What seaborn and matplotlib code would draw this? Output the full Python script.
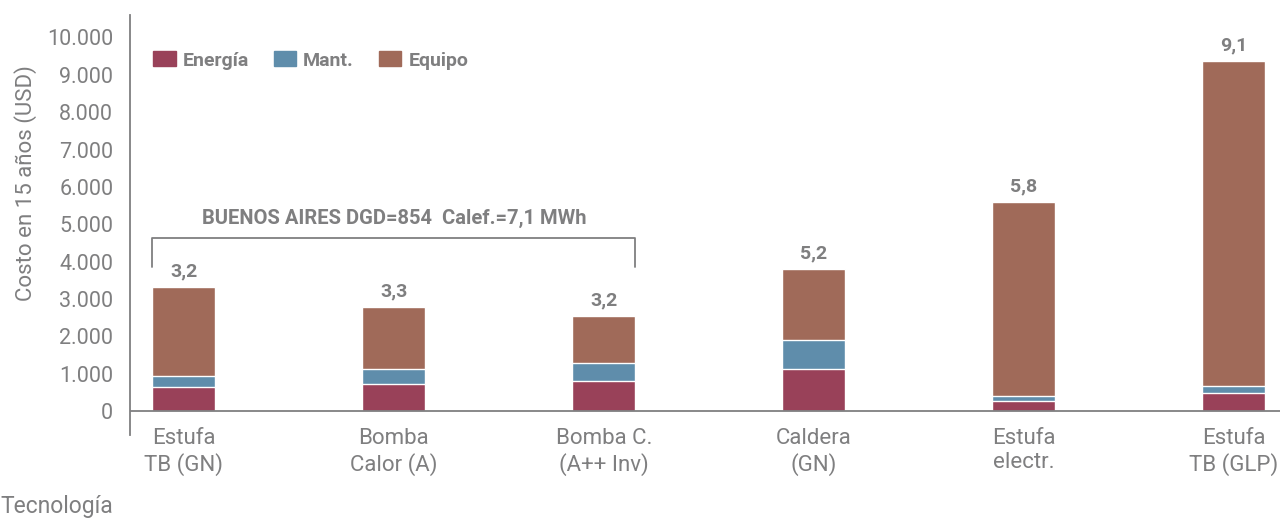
import matplotlib
matplotlib.use("Agg")
import matplotlib.pyplot as plt
import matplotlib.patches as mpatches
from matplotlib.ticker import FuncFormatter
import seaborn as sns
import pandas as pd
import numpy as np

# datos (USD en 15 años)
tecnologias = ["Estufa\nTB (GN)", "Bomba\nCalor (A)", "Bomba C.\n(A++ Inv)",
               "Caldera\n(GN)", "Estufa\nelectr.", "Estufa\nTB (GLP)"]
energia = [640, 730, 800, 1130, 270, 480]
mant = [300, 390, 480, 780, 130, 190]
equipo = [2380, 1660, 1260, 1880, 5200, 8690]
etiquetas = ["3,2", "3,3", "3,2", "5,2", "5,8", "9,1"]

c_energia = "#994159"
c_mant = "#5f8dab"
c_equipo = "#a06a59"
gris = "#7f7f80"

sns.set_style("white")
plt.rcParams["font.family"] = ["Roboto", "DejaVu Sans"]

df = pd.DataFrame({"tec": tecnologias, "energia": energia, "mant": mant, "equipo": equipo})
df["em"] = df["energia"] + df["mant"]
df["total"] = df["em"] + df["equipo"]

fig = plt.figure(figsize=(12.8, 5.18), dpi=100)
ax = fig.add_axes([130 / 1280, 83 / 518, 1 - 130 / 1280, 420 / 518])

# barras apiladas: total, luego energia+mant, luego energia
sns.barplot(data=df, x="tec", y="total", color=c_equipo, width=0.3, saturation=1, ax=ax)
sns.barplot(data=df, x="tec", y="em", color=c_mant, width=0.3, saturation=1, ax=ax)
sns.barplot(data=df, x="tec", y="energia", color=c_energia, width=0.3, saturation=1, ax=ax)

ax.set_xlim(-0.257, 5.22)
ax.set_ylim(-640, 10600)
ax.set_yticks(np.arange(0, 10001, 1000))
ax.yaxis.set_major_formatter(FuncFormatter(lambda v, p: f"{int(v):,}".replace(",", ".")))
ax.tick_params(axis="both", length=0, labelcolor=gris)
ax.tick_params(axis="x", pad=-5, labelsize=16)
ax.tick_params(axis="y", pad=12, labelsize=15.5)

for s in ["top", "right", "bottom"]:
    ax.spines[s].set_visible(False)
ax.spines["left"].set_color(gris)
ax.spines["left"].set_linewidth(1.3)
ax.axhline(0, color=gris, lw=1.3)

ax.set_xlabel("")
ax.set_ylabel("Costo en 15 años (USD)", fontsize=16, color=gris)
ax.yaxis.set_label_coords(-0.081, 0.6)
fig.text(0.0, 0.0, "Tecnología", fontsize=16.5, color=gris, ha="left", va="bottom")

# etiquetas sobre barras
for i, (t, lab) in enumerate(zip(df["total"], etiquetas)):
    ax.text(i, t + 420, lab, ha="center", va="center", fontsize=14,
            fontweight="bold", color=gris)

# corchete Buenos Aires
ax.plot([-0.15, -0.15, 2.15, 2.15], [3860, 4640, 4640, 3860], color=gris, lw=1.3)
ax.text(1.0, 5150, "BUENOS AIRES DGD=854  Calef.=7,1 MWh", ha="center", va="center",
        fontsize=14.5, fontweight="bold", color=gris)

handles = [mpatches.Patch(color=c_energia, label="Energía"),
           mpatches.Patch(color=c_mant, label="Mant."),
           mpatches.Patch(color=c_equipo, label="Equipo")]
leg = ax.legend(handles=handles, loc="upper left", bbox_to_anchor=(0.005, 0.955), ncol=3,
                frameon=False, handlelength=1.15, handleheight=0.8, columnspacing=1.3,
                handletextpad=0.35, prop={"weight": "bold", "size": 14})
for t in leg.get_texts():
    t.set_color(gris)

fig.savefig("out.png", dpi=100)
